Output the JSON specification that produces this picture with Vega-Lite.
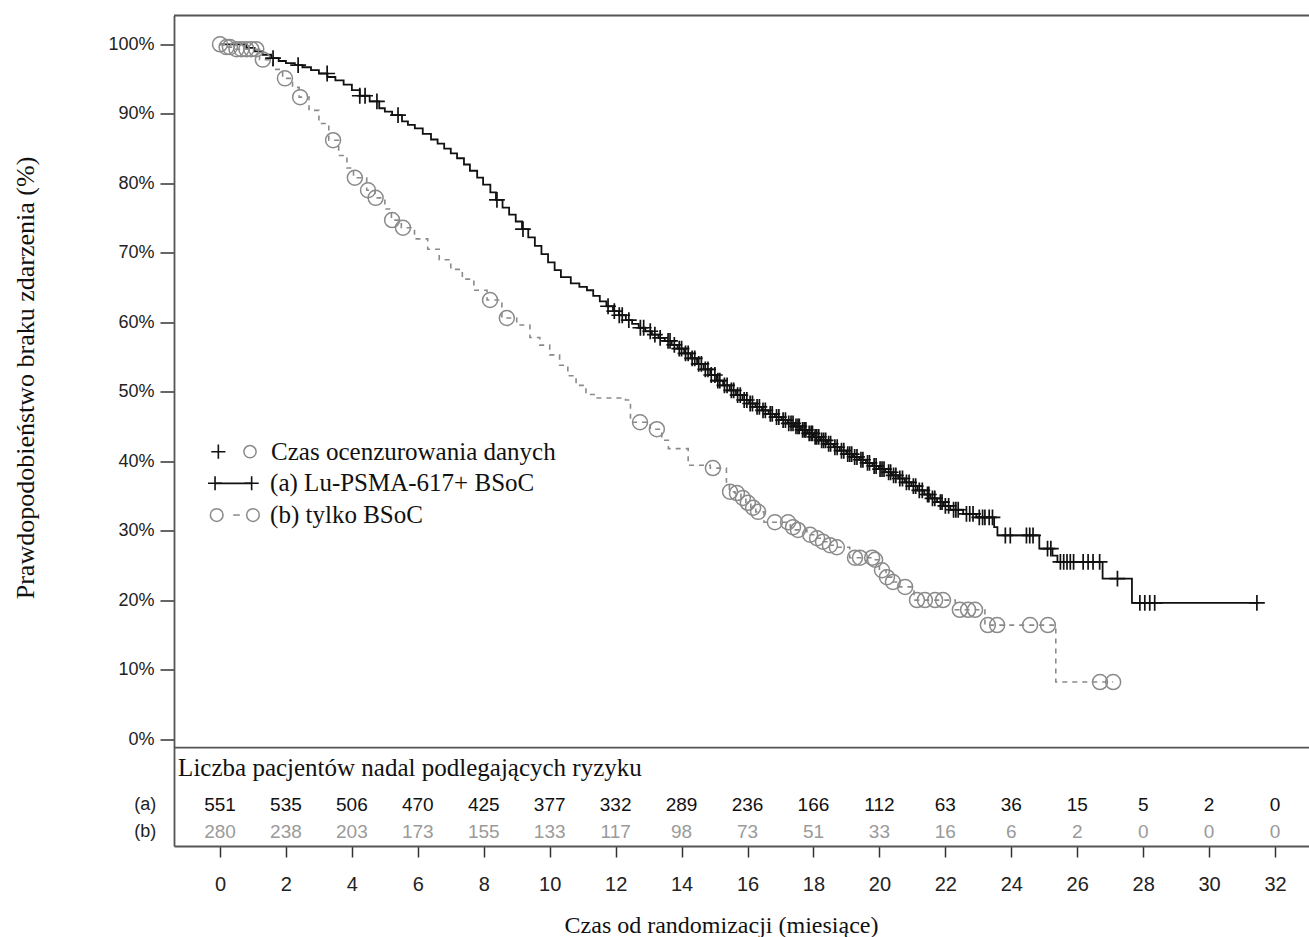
{
  "$schema": "https://vega.github.io/schema/vega-lite/v6.json",
  "autosize": "none",
  "width": 1135,
  "height": 830.5,
  "padding": {"left": 174, "top": 15.5, "right": 0, "bottom": 91},
  "background": "white",
  "config": {
    "view": {"stroke": null},
    "axis": {"grid": false}
  },
  "datasets": {
    "curveA": [
      {"t":0,"s":100},{"t":0.80,"s":99.5},{"t":1.05,"s":99.0},{"t":1.29,"s":98.5},{"t":1.55,"s":98.0},{"t":1.78,"s":97.6},{"t":2.0,"s":97.3},{"t":2.27,"s":97.0},{"t":2.5,"s":96.7},{"t":2.76,"s":96.3},{"t":3.0,"s":95.8},{"t":3.26,"s":95.3},{"t":3.5,"s":94.8},{"t":3.75,"s":94.2},{"t":4.0,"s":93.4},{"t":4.24,"s":92.6},{"t":4.54,"s":91.8},{"t":4.83,"s":90.8},{"t":5.0,"s":90.3},{"t":5.22,"s":89.8},{"t":5.52,"s":88.9},{"t":5.7,"s":88.4},{"t":5.91,"s":87.9},{"t":6.15,"s":87.1},{"t":6.40,"s":86.3},{"t":6.6,"s":85.7},{"t":6.80,"s":85.0},{"t":7.0,"s":84.3},{"t":7.19,"s":83.6},{"t":7.4,"s":82.7},{"t":7.58,"s":81.8},{"t":7.8,"s":80.8},{"t":7.98,"s":79.8},{"t":8.2,"s":78.7},{"t":8.37,"s":77.6},{"t":8.57,"s":76.5},{"t":8.77,"s":75.5},{"t":8.97,"s":74.5},{"t":9.16,"s":73.4},{"t":9.35,"s":72.2},{"t":9.55,"s":71.0},{"t":9.75,"s":69.8},{"t":9.95,"s":68.6},{"t":10.15,"s":67.5},{"t":10.34,"s":66.5},{"t":10.64,"s":65.6},{"t":10.9,"s":65.1},{"t":11.13,"s":64.6},{"t":11.32,"s":63.8},{"t":11.52,"s":63.0},{"t":11.72,"s":62.3},{"t":11.92,"s":61.6},{"t":12.1,"s":61.0},{"t":12.31,"s":60.3},{"t":12.5,"s":59.75},{"t":12.70,"s":59.2},{"t":12.9,"s":58.7},{"t":13.10,"s":58.2},{"t":13.3,"s":57.75},{"t":13.49,"s":57.3},{"t":13.7,"s":56.75},{"t":13.88,"s":56.2},{"t":14.08,"s":55.5},{"t":14.28,"s":54.8},{"t":14.47,"s":54.0},{"t":14.67,"s":53.2},{"t":14.87,"s":52.4},{"t":15.06,"s":51.6},{"t":15.26,"s":50.9},{"t":15.46,"s":50.2},{"t":15.65,"s":49.5},{"t":15.85,"s":48.8},{"t":16.05,"s":48.3},{"t":16.24,"s":47.8},{"t":16.44,"s":47.3},{"t":16.64,"s":46.8},{"t":16.83,"s":46.35},{"t":17.03,"s":45.9},{"t":17.22,"s":45.45},{"t":17.42,"s":45.0},{"t":17.62,"s":44.5},{"t":17.82,"s":44.0},{"t":18.01,"s":43.5},{"t":18.21,"s":43.0},{"t":18.41,"s":42.5},{"t":18.61,"s":42.0},{"t":18.8,"s":41.5},{"t":19.00,"s":41.0},{"t":19.2,"s":40.6},{"t":19.39,"s":40.2},{"t":19.59,"s":39.75},{"t":19.79,"s":39.3},{"t":19.98,"s":38.85},{"t":20.18,"s":38.4},{"t":20.38,"s":37.95},{"t":20.57,"s":37.5},{"t":20.77,"s":36.95},{"t":20.97,"s":36.4},{"t":21.16,"s":35.8},{"t":21.36,"s":35.2},{"t":21.55,"s":34.65},{"t":21.75,"s":34.1},{"t":21.95,"s":33.55},{"t":22.15,"s":33.0},{"t":22.54,"s":32.4},{"t":22.94,"s":31.9},{"t":23.48,"s":30.5},{"t":23.58,"s":29.3},{"t":24.85,"s":27.4},{"t":25.25,"s":26.4},{"t":25.40,"s":25.5},{"t":26.77,"s":23.1},{"t":27.66,"s":19.6},{"t":31.50,"s":19.6}
    ],
    "censA": [
      {"t":1.61,"s":98.0},{"t":2.37,"s":97.0},{"t":3.25,"s":95.8},{"t":4.24,"s":92.6},{"t":4.40,"s":92.6},{"t":4.76,"s":91.8},{"t":5.40,"s":89.8},{"t":8.40,"s":77.6},{"t":9.19,"s":73.4},
      {"t":11.77,"s":62.3},{"t":11.96,"s":61.6},{"t":12.11,"s":61.0},{"t":12.2,"s":61.0},{"t":12.4,"s":60.3},{"t":12.75,"s":59.2},{"t":12.85,"s":59.2},{"t":13.05,"s":58.7},{"t":13.19,"s":58.2},{"t":13.35,"s":57.75},{"t":13.59,"s":57.3},{"t":13.65,"s":57.3},{"t":13.78,"s":56.75},{"t":13.93,"s":56.2},{"t":14.0,"s":56.2},{"t":14.12,"s":55.5},{"t":14.2,"s":55.5},{"t":14.32,"s":54.8},{"t":14.4,"s":54.8},{"t":14.52,"s":54.0},{"t":14.6,"s":54.0},{"t":14.72,"s":53.2},{"t":14.8,"s":53.2},{"t":14.9,"s":52.4},{"t":15.01,"s":52.4},{"t":15.1,"s":51.6},{"t":15.16,"s":51.6},{"t":15.3,"s":50.9},{"t":15.38,"s":50.9},{"t":15.51,"s":50.2},{"t":15.58,"s":50.2},{"t":15.7,"s":49.5},{"t":15.78,"s":49.5},{"t":15.9,"s":48.8},{"t":15.98,"s":48.8},{"t":16.08,"s":48.3},{"t":16.15,"s":48.3},{"t":16.29,"s":47.8},{"t":16.36,"s":47.8},{"t":16.47,"s":47.3},{"t":16.54,"s":47.3},{"t":16.69,"s":46.8},{"t":16.75,"s":46.8},{"t":16.88,"s":46.35},{"t":16.95,"s":46.35},{"t":17.08,"s":45.9},{"t":17.15,"s":45.9},{"t":17.25,"s":45.45},{"t":17.32,"s":45.45},{"t":17.38,"s":45.45},{"t":17.47,"s":45.0},{"t":17.53,"s":45.0},{"t":17.57,"s":45.0},{"t":17.67,"s":44.5},{"t":17.72,"s":44.5},{"t":17.77,"s":44.5},{"t":17.87,"s":44.0},{"t":17.93,"s":44.0},{"t":17.97,"s":44.0},{"t":18.05,"s":43.5},{"t":18.1,"s":43.5},{"t":18.16,"s":43.5},{"t":18.25,"s":43.0},{"t":18.31,"s":43.0},{"t":18.37,"s":43.0},{"t":18.46,"s":42.5},{"t":18.52,"s":42.5},{"t":18.65,"s":42.0},{"t":18.72,"s":42.0},{"t":18.85,"s":41.5},{"t":18.92,"s":41.5},{"t":19.04,"s":41.0},{"t":19.1,"s":41.0},{"t":19.16,"s":41.0},{"t":19.25,"s":40.6},{"t":19.32,"s":40.6},{"t":19.44,"s":40.2},{"t":19.5,"s":40.2},{"t":19.64,"s":39.75},{"t":19.7,"s":39.75},{"t":19.84,"s":39.3},{"t":19.9,"s":39.3},{"t":20.02,"s":38.85},{"t":20.08,"s":38.85},{"t":20.14,"s":38.85},{"t":20.28,"s":38.4},{"t":20.34,"s":38.4},{"t":20.43,"s":37.95},{"t":20.5,"s":37.95},{"t":20.62,"s":37.5},{"t":20.7,"s":37.5},{"t":20.82,"s":36.95},{"t":20.9,"s":36.95},{"t":21.03,"s":36.4},{"t":21.1,"s":36.4},{"t":21.21,"s":35.8},{"t":21.3,"s":35.8},{"t":21.46,"s":35.2},{"t":21.5,"s":35.2},{"t":21.61,"s":34.65},{"t":21.68,"s":34.65},{"t":21.85,"s":34.1},{"t":21.9,"s":34.1},{"t":22.0,"s":33.55},{"t":22.1,"s":33.55},{"t":22.25,"s":33.0},{"t":22.32,"s":33.0},{"t":22.39,"s":33.0},{"t":22.64,"s":32.4},{"t":22.74,"s":32.4},{"t":22.84,"s":32.4},{"t":23.03,"s":31.9},{"t":23.13,"s":31.9},{"t":23.2,"s":31.9},{"t":23.33,"s":31.9},{"t":23.43,"s":31.9},
      {"t":23.82,"s":29.3},{"t":23.97,"s":29.3},{"t":24.46,"s":29.3},{"t":24.56,"s":29.3},{"t":24.66,"s":29.3},{"t":25.10,"s":27.4},{"t":25.20,"s":27.4},{"t":25.49,"s":25.5},{"t":25.59,"s":25.5},{"t":25.69,"s":25.5},{"t":25.79,"s":25.5},{"t":25.89,"s":25.5},{"t":26.18,"s":25.5},{"t":26.33,"s":25.5},{"t":26.48,"s":25.5},{"t":26.68,"s":25.5},{"t":27.22,"s":23.1},{"t":27.90,"s":19.6},{"t":28.05,"s":19.6},{"t":28.20,"s":19.6},{"t":28.35,"s":19.6},{"t":31.45,"s":19.6}
    ],
    "curveB": [
      {"t":0,"s":100},{"t":0.15,"s":99.6},{"t":0.4,"s":99.3},{"t":1.2,"s":97.8},{"t":1.6,"s":96.4},{"t":1.9,"s":95.1},{"t":2.2,"s":93.8},{"t":2.4,"s":92.4},{"t":2.7,"s":90.5},{"t":3.0,"s":88.6},{"t":3.3,"s":86.2},{"t":3.6,"s":84.0},{"t":3.85,"s":82.2},{"t":4.05,"s":80.8},{"t":4.45,"s":79.0},{"t":4.7,"s":77.9},{"t":5.0,"s":76.3},{"t":5.2,"s":74.7},{"t":5.5,"s":73.6},{"t":5.9,"s":72.0},{"t":6.3,"s":70.5},{"t":6.65,"s":69.0},{"t":7.0,"s":67.6},{"t":7.35,"s":66.2},{"t":7.7,"s":64.6},{"t":8.1,"s":63.2},{"t":8.55,"s":60.6},{"t":9.0,"s":59.6},{"t":9.4,"s":57.8},{"t":9.7,"s":56.7},{"t":10.0,"s":55.3},{"t":10.3,"s":53.8},{"t":10.55,"s":52.3},{"t":10.8,"s":50.9},{"t":11.1,"s":49.6},{"t":11.4,"s":49.1},{"t":12.3,"s":48.8},{"t":12.45,"s":45.6},{"t":13.05,"s":44.6},{"t":13.4,"s":43.0},{"t":13.6,"s":41.8},{"t":14.2,"s":39.4},{"t":14.87,"s":39.0},{"t":15.36,"s":37.0},{"t":15.45,"s":35.6},{"t":15.62,"s":35.4},{"t":15.8,"s":34.7},{"t":15.95,"s":34.0},{"t":16.1,"s":33.3},{"t":16.25,"s":32.7},{"t":16.5,"s":31.2},{"t":17.3,"s":30.5},{"t":17.45,"s":30.1},{"t":17.8,"s":29.4},{"t":18.05,"s":28.9},{"t":18.25,"s":28.4},{"t":18.45,"s":27.9},{"t":18.65,"s":27.6},{"t":19.1,"s":26.1},{"t":19.85,"s":25.8},{"t":20.0,"s":24.3},{"t":20.2,"s":23.3},{"t":20.38,"s":22.6},{"t":20.6,"s":21.9},{"t":21.05,"s":20.0},{"t":22.3,"s":18.6},{"t":23.2,"s":16.4},{"t":25.35,"s":8.2},{"t":27.09,"s":8.2}
    ],
    "censB": [
      {"t":0.0,"s":100},{"t":0.2,"s":99.6},{"t":0.3,"s":99.6},{"t":0.5,"s":99.3},{"t":0.65,"s":99.3},{"t":0.8,"s":99.3},{"t":0.95,"s":99.3},{"t":1.1,"s":99.3},{"t":1.3,"s":97.8},{"t":1.97,"s":95.1},{"t":2.43,"s":92.4},{"t":3.43,"s":86.2},{"t":4.09,"s":80.8},{"t":4.49,"s":79.0},{"t":4.72,"s":77.9},{"t":5.22,"s":74.7},{"t":5.55,"s":73.6},{"t":8.19,"s":63.2},{"t":8.70,"s":60.6},{"t":12.74,"s":45.6},{"t":13.25,"s":44.6},{"t":14.95,"s":39.0},{"t":15.47,"s":35.6},{"t":15.68,"s":35.4},{"t":15.86,"s":34.7},{"t":16.01,"s":34.0},{"t":16.17,"s":33.3},{"t":16.32,"s":32.7},{"t":16.83,"s":31.2},{"t":17.23,"s":31.2},{"t":17.38,"s":30.5},{"t":17.53,"s":30.1},{"t":17.90,"s":29.4},{"t":18.11,"s":28.9},{"t":18.29,"s":28.4},{"t":18.50,"s":27.9},{"t":18.71,"s":27.6},{"t":19.26,"s":26.1},{"t":19.41,"s":26.1},{"t":19.78,"s":26.1},{"t":19.87,"s":25.8},{"t":20.08,"s":24.3},{"t":20.23,"s":23.3},{"t":20.41,"s":22.6},{"t":20.78,"s":21.9},{"t":21.14,"s":20.0},{"t":21.38,"s":20.0},{"t":21.69,"s":20.0},{"t":21.93,"s":20.0},{"t":22.44,"s":18.6},{"t":22.69,"s":18.6},{"t":22.90,"s":18.6},{"t":23.29,"s":16.4},{"t":23.57,"s":16.4},{"t":24.57,"s":16.4},{"t":25.11,"s":16.4},{"t":26.69,"s":8.2},{"t":27.09,"s":8.2}
    ],
    "risk": [
      {"t":0,"a":551,"b":280},{"t":2,"a":535,"b":238},{"t":4,"a":506,"b":203},{"t":6,"a":470,"b":173},{"t":8,"a":425,"b":155},{"t":10,"a":377,"b":133},{"t":12,"a":332,"b":117},{"t":14,"a":289,"b":98},{"t":16,"a":236,"b":73},{"t":18,"a":166,"b":51},{"t":20,"a":112,"b":33},{"t":22,"a":63,"b":16},{"t":24,"a":36,"b":6},{"t":26,"a":15,"b":2},{"t":28,"a":5,"b":0},{"t":30,"a":2,"b":0},{"t":32,"a":0,"b":0}
    ],
    "one": [{"k":1}]
  },
  "layer": [
    {
      "data": {"name": "curveA"},
      "mark": {"type": "line", "interpolate": "step-after", "color": "#111", "strokeWidth": 1.8},
      "encoding": {
        "x": {"field": "t", "type": "quantitative",
          "scale": {"domain": [-1.395, 33.03], "nice": false, "zero": false},
          "axis": {"values": [0,2,4,6,8,10,12,14,16,18,20,22,24,26,28,30,32],
            "title": "Czas od randomizacji (miesiące)",
            "titleFont": "Liberation Serif", "titleFontSize": 24, "titleFontWeight": "normal", "titleColor": "#111",
            "titleX": 547, "titleY": 79, "titleBaseline": "middle", "titleAnchor": null,
            "labelFont": "Liberation Sans", "labelFontSize": 20, "labelColor": "#222", "labelPadding": 17,
            "tickSize": 11, "tickColor": "#333", "tickWidth": 1.5,
            "domain": true, "domainColor": "#555", "domainWidth": 1.8, "labelFlush": false}},
        "y": {"field": "s", "type": "quantitative",
          "scale": {"domain": [-15.4, 104.15], "nice": false, "zero": false},
          "axis": {"values": [0,10,20,30,40,50,60,70,80,90,100],
            "labelExpr": "datum.value + '%'",
            "title": "Prawdopodobieństwo braku zdarzenia (%)",
            "titleFont": "Liberation Serif", "titleFontSize": 26, "titleFontWeight": "normal", "titleColor": "#111",
            "titleX": -149, "titleY": 362, "titleBaseline": "middle", "titleAlign": "center", "titleAngle": -90,
            "labelFont": "Liberation Sans", "labelFontSize": 18, "labelColor": "#222", "labelPadding": 6,
            "tickSize": 14, "tickColor": "#333", "tickWidth": 1.5,
            "domain": true, "domainColor": "#555", "domainWidth": 1.8}}
      }
    },
    {
      "data": {"name": "curveB"},
      "mark": {"type": "line", "interpolate": "step-after", "color": "#8a8a8a", "strokeWidth": 1.6, "strokeDash": [5, 5]},
      "encoding": {
        "x": {"field": "t", "type": "quantitative"},
        "y": {"field": "s", "type": "quantitative"}
      }
    },
    {
      "data": {"name": "censB"},
      "mark": {"type": "point", "shape": "circle", "filled": false, "color": "#8a8a8a", "strokeWidth": 1.5, "size": 225, "opacity": 1},
      "encoding": {
        "x": {"field": "t", "type": "quantitative"},
        "y": {"field": "s", "type": "quantitative"}
      }
    },
    {
      "data": {"name": "censA"},
      "mark": {"type": "point", "shape": "M-1,0L1,0M0,-1L0,1", "filled": false, "color": "#111", "strokeWidth": 1.7, "size": 250, "opacity": 1},
      "encoding": {
        "x": {"field": "t", "type": "quantitative"},
        "y": {"field": "s", "type": "quantitative"}
      }
    },
    {
      "data": {"name": "one"},
      "mark": {"type": "rule", "color": "#555", "strokeWidth": 1.8},
      "encoding": {"y": {"datum": -1.25}}
    },
    {
      "data": {"name": "one"},
      "mark": {"type": "rule", "color": "#555", "strokeWidth": 1.8},
      "encoding": {"y": {"datum": 104.15}}
    },
    {
      "data": {"name": "one"},
      "mark": {"type": "text", "text": "Liczba pacjentów nadal podlegających ryzyku", "align": "left", "baseline": "middle", "font": "Liberation Serif", "fontSize": 25, "color": "#111"},
      "encoding": {"x": {"datum": -1.27}, "y": {"datum": -4.22}}
    },
    {
      "data": {"name": "one"},
      "mark": {"type": "text", "text": "(a)", "align": "center", "baseline": "middle", "font": "Liberation Sans", "fontSize": 18, "color": "#222"},
      "encoding": {"x": {"datum": -2.27}, "y": {"datum": -9.5}}
    },
    {
      "data": {"name": "one"},
      "mark": {"type": "text", "text": "(b)", "align": "center", "baseline": "middle", "font": "Liberation Sans", "fontSize": 18, "color": "#222"},
      "encoding": {"x": {"datum": -2.27}, "y": {"datum": -13.34}}
    },
    {
      "data": {"name": "risk"},
      "mark": {"type": "text", "align": "center", "baseline": "middle", "font": "Liberation Sans", "fontSize": 19, "color": "#111"},
      "encoding": {"x": {"field": "t", "type": "quantitative"}, "y": {"datum": -9.5}, "text": {"field": "a"}}
    },
    {
      "data": {"name": "risk"},
      "mark": {"type": "text", "align": "center", "baseline": "middle", "font": "Liberation Sans", "fontSize": 19, "color": "#9a9a9a"},
      "encoding": {"x": {"field": "t", "type": "quantitative"}, "y": {"datum": -13.34}, "text": {"field": "b"}}
    },
    {
      "data": {"name": "one"},
      "mark": {"type": "point", "shape": "M-1,0L1,0M0,-1L0,1", "filled": false, "color": "#111", "strokeWidth": 1.6, "size": 200, "opacity": 1},
      "encoding": {"x": {"datum": -0.05}, "y": {"datum": 41.36}}
    },
    {
      "data": {"name": "one"},
      "mark": {"type": "point", "shape": "circle", "filled": false, "color": "#8a8a8a", "strokeWidth": 1.5, "size": 150, "opacity": 1},
      "encoding": {"x": {"datum": 0.91}, "y": {"datum": 41.36}}
    },
    {
      "data": {"name": "one"},
      "mark": {"type": "rule", "color": "#111", "strokeWidth": 1.8},
      "encoding": {"x": {"datum": -0.15}, "x2": {"datum": 0.96}, "y": {"datum": 36.81}}
    },
    {
      "data": {"name": "one"},
      "mark": {"type": "point", "shape": "M-1,0L1,0M0,-1L0,1", "filled": false, "color": "#111", "strokeWidth": 1.6, "size": 200, "opacity": 1},
      "encoding": {"x": {"datum": -0.15}, "y": {"datum": 36.81}}
    },
    {
      "data": {"name": "one"},
      "mark": {"type": "point", "shape": "M-1,0L1,0M0,-1L0,1", "filled": false, "color": "#111", "strokeWidth": 1.6, "size": 200, "opacity": 1},
      "encoding": {"x": {"datum": 0.96}, "y": {"datum": 36.81}}
    },
    {
      "data": {"name": "one"},
      "mark": {"type": "rule", "color": "#8a8a8a", "strokeWidth": 1.5},
      "encoding": {"x": {"datum": 0.4}, "x2": {"datum": 0.6}, "y": {"datum": 32.24}}
    },
    {
      "data": {"name": "one"},
      "mark": {"type": "point", "shape": "circle", "filled": false, "color": "#8a8a8a", "strokeWidth": 1.5, "size": 160, "opacity": 1},
      "encoding": {"x": {"datum": -0.1}, "y": {"datum": 32.24}}
    },
    {
      "data": {"name": "one"},
      "mark": {"type": "point", "shape": "circle", "filled": false, "color": "#8a8a8a", "strokeWidth": 1.5, "size": 160, "opacity": 1},
      "encoding": {"x": {"datum": 1.0}, "y": {"datum": 32.24}}
    },
    {
      "data": {"name": "one"},
      "mark": {"type": "text", "text": "Czas ocenzurowania danych", "align": "left", "baseline": "middle", "font": "Liberation Serif", "fontSize": 25, "color": "#111"},
      "encoding": {"x": {"datum": 1.55}, "y": {"datum": 41.36}}
    },
    {
      "data": {"name": "one"},
      "mark": {"type": "text", "text": "(a) Lu-PSMA-617+ BSoC", "align": "left", "baseline": "middle", "font": "Liberation Serif", "fontSize": 25, "color": "#111"},
      "encoding": {"x": {"datum": 1.52}, "y": {"datum": 36.81}}
    },
    {
      "data": {"name": "one"},
      "mark": {"type": "text", "text": "(b) tylko BSoC", "align": "left", "baseline": "middle", "font": "Liberation Serif", "fontSize": 25, "color": "#111"},
      "encoding": {"x": {"datum": 1.52}, "y": {"datum": 32.24}}
    }
  ]
}
